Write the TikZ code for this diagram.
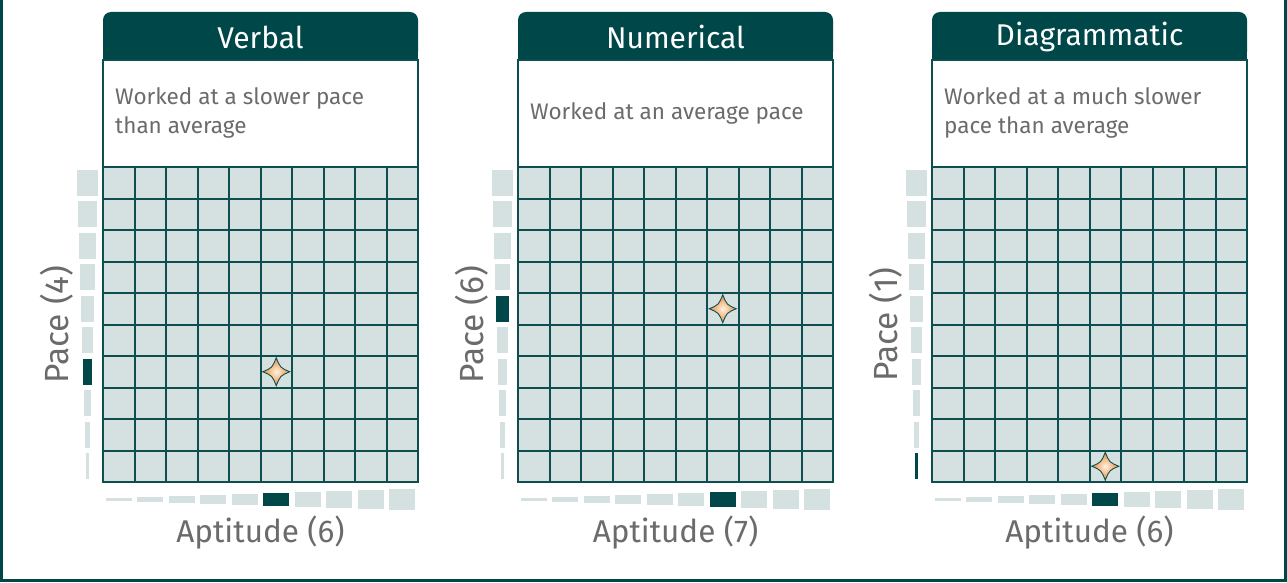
\documentclass[tikz,border=0pt]{standalone}
\usepackage{fontspec}
\setmainfont{Fira Sans}
\definecolor{hdr}{HTML}{00474A}
\definecolor{gline}{HTML}{0E4E51}
\definecolor{cellbg}{HTML}{D5E1E1}
\definecolor{txt}{HTML}{6B6B6B}
\definecolor{starI}{HTML}{FFF1E2}
\definecolor{starO}{HTML}{E98C36}
\tikzset{
  frameline/.style={draw=hdr, line width=2.5pt},
  gridline/.style={draw=gline, line width=2pt},
  titletext/.style={text=white, font=\fontsize{30}{35}\selectfont, inner sep=0pt},
  desctext/.style={text=txt, font=\fontsize{22.5}{28.5}\selectfont, align=left, inner sep=0pt},
  axistext/.style={text=txt, font=\fontsize{31.5}{36}\selectfont, inner sep=0pt},
  pacetext/.style={text=txt, font=\fontsize{33.5}{38}\selectfont, inner sep=0pt},
  starshape/.style={inner color=starI, outer color=starO, draw=gline, line width=0.9pt},
}
\begin{document}
\begin{tikzpicture}[x=1pt,y=-1pt]
\useasboundingbox (0,0) rectangle (1287,583);
\fill[white] (0,0) rectangle (1287,583);
\draw[frameline] (1.5,-2) -- (1.5,580.5) -- (1285.5,580.5) -- (1285.5,-2);
\foreach \x/\t/\d/\a/\p/\n in {
  103/Verbal/{Worked at a slower pace\\than average}/6/4/v,
  518/Numerical/{Worked at an average pace}/7/6/m,
  932/Diagrammatic/{Worked at a much slower\\pace than average}/6/1/d}{
  % header
  \fill[hdr, rounded corners=8pt] (\x,12) rectangle ({\x+315},60);
  \fill[hdr] (\x,36) rectangle ({\x+315},60);
  \node[titletext] (t\n) at ({\x+157.5},37) {\t};
  % description box
  \draw[gline, line width=1.5pt, fill=white] (\x,60) rectangle ({\x+315},167);
  \node[desctext, anchor=west] (d\n) at ({\x+12},113) {\d};
  % grid
  \fill[cellbg] (\x,167) rectangle ({\x+315},482);
  \foreach \k in {0,...,10}{
    \draw[gridline] ({\x+\k*31.5},167) -- ++(0,315);
    \draw[gridline] (\x,{167+\k*31.5}) -- ++(315,0);
  }
  \draw[gridline, line cap=rect] (\x,167) rectangle ({\x+315},482);
  % pace bars (vertical scale on the left)
  \foreach \i in {1,...,10}{
    \pgfmathsetmacro\w{2*\i+1}
    \pgfmathsetmacro\yc{482-(\i-0.5)*31.5}
    \ifnum\i=\p
      \fill[hdr] ({\x-15.5-\w/2},{\yc-13}) rectangle ++(\w,26);
    \else
      \fill[cellbg] ({\x-15.5-\w/2},{\yc-13}) rectangle ++(\w,26);
    \fi
  }
  % aptitude bars (horizontal scale below)
  \foreach \i in {1,...,10}{
    \pgfmathsetmacro\h{2*\i+1}
    \pgfmathsetmacro\xc{\x+(\i-0.5)*31.5}
    \ifnum\i=\a
      \fill[hdr] ({\xc-13},{499.5-\h/2}) rectangle ++(26,\h);
    \else
      \fill[cellbg] ({\xc-13},{499.5-\h/2}) rectangle ++(26,\h);
    \fi
  }
  % star marker
  \pgfmathsetmacro\sx{\x+(\a-0.5)*31.5}
  \pgfmathsetmacro\sy{482-(\p-0.5)*31.5}
  \shade[starshape] (\sx,{\sy-14}) .. controls ({\sx+4},{\sy-4}) .. ({\sx+13.5},\sy)
     .. controls ({\sx+4},{\sy+4}) .. (\sx,{\sy+14})
     .. controls ({\sx-4},{\sy+4}) .. ({\sx-13.5},\sy)
     .. controls ({\sx-4},{\sy-4}) .. (\sx,{\sy-14}) -- cycle;
  % axis labels
  \node[axistext] (a\n) at ({\x+157.5},533) {Aptitude (\a)};
  \node[pacetext, rotate=90] (p\n) at ({\x-46},324.5) {Pace (\p)};
}
\end{tikzpicture}
\end{document}
